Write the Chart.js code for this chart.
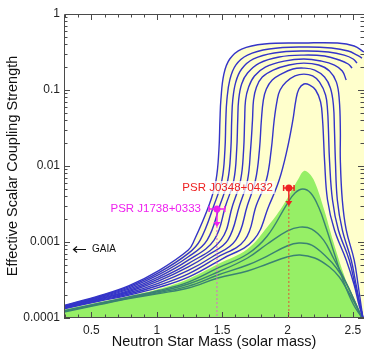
<!DOCTYPE html>
<html>
<head>
<meta charset="utf-8">
<script src="https://cdn.jsdelivr.net/npm/chart.js@4.4.0/dist/chart.umd.min.js"></script>
<style>
  html, body { margin: 0; padding: 0; background: #fff; }
  canvas { display: block; }
</style>
</head>
<body>
<canvas id="chart" width="368" height="353"></canvas>
<script>
// axis ticks
var massTicks = [0.5, 1, 1.5, 2, 2.5];
var couplingTicks = [0.0001, 0.001, 0.01, 0.1, 1];

// contours of the effective coupling, [mass, alpha]
var blue1 = [[0.290,1.46e-4],[0.562,1.97e-4],[0.788,2.67e-4],[1.015,4.21e-4],[1.241,7.85e-4],[1.287,1.06e-3],[1.400,3.07e-3],[1.453,6.54e-3],[1.475,1.62e-2],[1.483,4.03e-2],[1.490,7.38e-2],[1.513,0.162],[1.558,0.256],[1.649,0.346],[1.823,0.403],[2.125,0.415],[2.381,0.415],[2.510,0.379],[2.585,0.316]];
var blue2 = [[0.290,1.44e-4],[0.562,1.93e-4],[0.788,2.59e-4],[1.015,3.95e-4],[1.241,7.08e-4],[1.332,1.06e-3],[1.438,3.07e-3],[1.498,6.54e-3],[1.521,1.62e-2],[1.528,4.03e-2],[1.536,7.38e-2],[1.558,0.135],[1.604,0.213],[1.694,0.288],[1.860,0.346],[2.125,0.368],[2.336,0.357],[2.464,0.326],[2.532,0.288],[2.570,0.263]];
var blue3 = [[0.290,1.42e-4],[0.562,1.89e-4],[0.788,2.49e-4],[1.015,3.71e-4],[1.241,6.39e-4],[1.385,1.06e-3],[1.483,3.07e-3],[1.543,6.54e-3],[1.566,1.62e-2],[1.573,4.03e-2],[1.581,7.38e-2],[1.604,0.127],[1.649,0.189],[1.740,0.256],[1.898,0.307],[2.125,0.326],[2.313,0.316],[2.434,0.288],[2.502,0.256],[2.532,0.226]];
var blue4 = [[0.290,1.41e-4],[0.562,1.85e-4],[0.788,2.40e-4],[1.015,3.48e-4],[1.241,5.76e-4],[1.438,1.06e-3],[1.528,3.07e-3],[1.589,6.54e-3],[1.611,1.62e-2],[1.619,4.03e-2],[1.626,7.38e-2],[1.649,0.120],[1.694,0.167],[1.785,0.226],[1.936,0.272],[2.125,0.288],[2.283,0.280],[2.396,0.248],[2.464,0.220],[2.494,0.194]];
var blue5 = [[0.290,1.39e-4],[0.562,1.81e-4],[0.788,2.31e-4],[1.015,3.28e-4],[1.241,5.20e-4],[1.490,1.06e-3],[1.581,3.07e-3],[1.641,6.54e-3],[1.664,1.62e-2],[1.672,4.03e-2],[1.679,7.38e-2],[1.702,0.109],[1.747,0.153],[1.830,0.200],[1.974,0.240],[2.125,0.256],[2.260,0.240],[2.359,0.213],[2.419,0.178],[2.449,0.135]];
var blue6 = [[0.290,1.37e-4],[0.562,1.78e-4],[0.788,2.23e-4],[1.015,3.07e-4],[1.241,4.69e-4],[1.392,6.74e-4],[1.543,1.06e-3],[1.634,3.07e-3],[1.694,6.54e-3],[1.717,1.62e-2],[1.732,4.03e-2],[1.740,7.38e-2],[1.762,0.109],[1.807,0.148],[1.890,0.183],[2.011,0.213],[2.125,0.226],[2.238,0.213],[2.321,0.178],[2.374,0.127],[2.396,7.38e-2],[2.404,2.97e-2],[2.404,1.20e-2],[2.419,3.57e-3],[2.449,1.44e-3],[2.510,5.79e-4],[2.540,2.72e-4],[2.562,1.48e-4],[2.577,1e-4]];
var blue7 = [[0.290,1.355e-4],[0.562,1.74e-4],[0.788,2.15e-4],[1.015,2.88e-4],[1.241,4.22e-4],[1.422,6.35e-4],[1.604,1.06e-3],[1.694,3.07e-3],[1.755,6.54e-3],[1.785,1.62e-2],[1.800,4.03e-2],[1.815,7.38e-2],[1.838,0.103],[1.883,0.135],[1.951,0.162],[2.041,0.189],[2.125,0.194],[2.208,0.183],[2.283,0.148],[2.328,0.106],[2.351,6.35e-2],[2.359,2.97e-2],[2.366,1.20e-2],[2.381,3.57e-3],[2.419,1.44e-3],[2.487,5.79e-4],[2.525,2.72e-4],[2.555,1.48e-4],[2.577,1e-4]];
var blue8 = [[0.290,1.34e-4],[0.562,1.70e-4],[0.788,2.07e-4],[1.015,2.70e-4],[1.241,3.81e-4],[1.453,6.16e-4],[1.672,1.06e-3],[1.762,3.07e-3],[1.838,6.54e-3],[1.875,1.62e-2],[1.898,4.03e-2],[1.921,7.38e-2],[1.943,0.100],[1.989,0.127],[2.057,0.153],[2.125,0.162],[2.192,0.153],[2.245,0.127],[2.291,8.59e-2],[2.306,5.45e-2],[2.313,2.97e-2],[2.321,1.20e-2],[2.344,3.57e-3],[2.389,1.44e-3],[2.472,5.79e-4],[2.517,2.72e-4],[2.555,1.48e-4],[2.577,1e-4]];
var blue9 = [[0.290,1.32e-4],[0.562,1.67e-4],[0.788,2.00e-4],[1.015,2.53e-4],[1.241,3.44e-4],[1.498,5.97e-4],[1.740,1.06e-3],[1.860,3.07e-3],[1.936,6.54e-3],[1.996,1.62e-2],[2.041,4.03e-2],[2.064,7.38e-2],[2.087,0.103],[2.125,0.120],[2.170,0.116],[2.215,0.100],[2.253,6.95e-2],[2.268,4.03e-2],[2.276,2.20e-2],[2.283,1.20e-2],[2.306,3.57e-3],[2.359,1.44e-3],[2.449,5.79e-4],[2.510,2.72e-4],[2.547,1.48e-4],[2.577,1e-4]];

var teal1 = [[0.290,1.25e-4],[0.562,1.57e-4],[0.788,1.89e-4],[1.015,2.30e-4],[1.241,2.97e-4],[1.468,4.55e-4],[1.694,6.95e-4],[1.845,1.20e-3],[1.996,3.16e-3],[2.057,4.41e-3],[2.117,4.98e-3],[2.177,4.41e-3],[2.238,2.88e-3],[2.298,1.48e-3],[2.359,6.95e-4],[2.427,3.07e-4],[2.502,1.53e-4],[2.570,1e-4]];
var teal2 = [[0.290,1.23e-4],[0.562,1.55e-4],[0.788,1.86e-4],[1.015,2.23e-4],[1.241,2.80e-4],[1.468,4.03e-4],[1.694,6.16e-4],[1.845,9.41e-4],[1.996,1.39e-3],[2.094,1.57e-3],[2.185,1.48e-3],[2.276,1.06e-3],[2.351,6.16e-4],[2.427,3.46e-4],[2.502,1.83e-4],[2.570,1e-4]];
var teal3 = [[0.290,1.22e-4],[0.562,1.53e-4],[0.788,1.83e-4],[1.015,2.16e-4],[1.241,2.63e-4],[1.468,3.68e-4],[1.694,4.98e-4],[1.845,6.54e-4],[1.996,8.86e-4],[2.087,9.70e-4],[2.185,9.13e-4],[2.298,6.35e-4],[2.374,4.55e-4],[2.449,2.88e-4],[2.510,1.72e-4],[2.570,1e-4]];
var teal4 = [[0.290,1.20e-4],[0.562,1.50e-4],[0.788,1.80e-4],[1.015,2.10e-4],[1.241,2.48e-4],[1.468,3.36e-4],[1.694,4.15e-4],[1.845,5.13e-4],[1.996,6.35e-4],[2.094,6.74e-4],[2.208,6.16e-4],[2.321,4.69e-4],[2.396,3.46e-4],[2.457,2.33e-4],[2.517,1.53e-4],[2.570,1e-4]];

// upper edge of the green (allowed) region
var greenEdge = [[0.290,1.29e-4],[0.562,1.62e-4],[0.788,1.94e-4],[1.015,2.40e-4],[1.241,3.26e-4],[1.468,5.13e-4],[1.694,8.09e-4],[1.845,1.57e-3],[1.958,2.88e-3],[2.034,4.83e-3],[2.087,6.95e-3],[2.125,8.59e-3],[2.162,8.09e-3],[2.208,6.16e-3],[2.276,2.80e-3],[2.351,1.00e-3],[2.427,3.91e-4],[2.502,1.72e-4],[2.570,1e-4]];

// pulsar limits
var psrNames = ['PSR J0348+0432', 'PSR J1738+0333'];
var psrMass = [2.01, 1.46];
var psrMassErr = [0.04, 0.06];
var psrAlpha = [5.13e-3, 2.72e-3];
var psrLimit = [3.07e-3, 1.62e-3];
var psrColors = ['#ee2222', '#ee22ee'];
var psrDrop = ['#dd5533', '#dd66cc'];

var gaiaLimit = 8.1e-4;

var blueCurves = [blue1, blue2, blue3, blue4, blue5, blue6, blue7, blue8, blue9];
var tealCurves = [teal1, teal2, teal3, teal4];

function pts(arr) {
  return arr.map(p => ({x: p[0], y: p[1]}));
}

Chart.defaults.font.family = "'Liberation Sans', Arial, sans-serif";

var datasets = [];
datasets.push({
  data: psrNames.map((n, i) => ({x: psrMass[i], y: psrAlpha[i]})),
  showLine: false,
  pointRadius: 3.5,
  pointBackgroundColor: psrColors,
  pointBorderWidth: 0,
  order: -1
});
blueCurves.forEach(c => datasets.push({
  data: pts(c), borderColor: '#3434c8', borderWidth: 1.4, pointRadius: 0, tension: 0.4, fill: false, order: 1
}));
tealCurves.forEach(c => datasets.push({
  data: pts(c), borderColor: '#3a8272', borderWidth: 1.4, pointRadius: 0, tension: 0.4, fill: false, order: 2
}));
datasets.push({
  data: pts(greenEdge), borderWidth: 0, pointRadius: 0, tension: 0.4,
  backgroundColor: '#96ef66', fill: 'start', order: 9
});
datasets.push({
  data: pts(blue1), borderWidth: 0, pointRadius: 0, tension: 0.4,
  backgroundColor: '#ffffcc', fill: 'start', order: 10
});

// frame with inward ticks on all four sides
var frame = {
  id: 'frame',
  afterDatasetsDraw(chart) {
    var ctx = chart.ctx, a = chart.chartArea, x = chart.scales.x, y = chart.scales.y;
    ctx.save();
    ctx.strokeStyle = '#4a4a4a';
    ctx.lineWidth = 1;
    ctx.beginPath();
    ctx.moveTo(a.left + 0.5, a.bottom);
    ctx.lineTo(a.left + 0.5, a.top + 0.5);
    ctx.lineTo(a.right, a.top + 0.5);
    ctx.moveTo(a.left, a.bottom - 0.5);
    ctx.lineTo(a.right, a.bottom - 0.5);
    for (var k = 3; k <= 25; k++) {
      var px = Math.round(x.getPixelForValue(k / 10)) + 0.5;
      var len = k % 5 === 0 ? 6 : 3.5;
      ctx.moveTo(px, a.bottom); ctx.lineTo(px, a.bottom - len);
      ctx.moveTo(px, a.top); ctx.lineTo(px, a.top + len);
    }
    for (var e = -4; e < 0; e++) {
      for (var m = 1; m <= 9; m++) {
        var py = Math.round(y.getPixelForValue(m * Math.pow(10, e))) + 0.5;
        var l = m === 1 ? 6 : 3.5;
        ctx.moveTo(a.left, py); ctx.lineTo(a.left + l, py);
        ctx.moveTo(a.right, py); ctx.lineTo(a.right - l, py);
      }
    }
    ctx.stroke();
    ctx.restore();
  }
};

// pulsar error bars, upper-limit arrows and labels, GAIA marker
var annotations = {
  id: 'annotations',
  afterDatasetsDraw(chart) {
    var ctx = chart.ctx, a = chart.chartArea, x = chart.scales.x, y = chart.scales.y;
    ctx.save();
    psrNames.forEach((name, i) => {
      var px = x.getPixelForValue(psrMass[i]);
      var py = y.getPixelForValue(psrAlpha[i]);
      var pl = y.getPixelForValue(psrLimit[i]);
      var x0 = x.getPixelForValue(psrMass[i] - psrMassErr[i]);
      var x1 = x.getPixelForValue(psrMass[i] + psrMassErr[i]);

      ctx.setLineDash([2, 2]);
      ctx.strokeStyle = psrDrop[i];
      ctx.lineWidth = 1;
      ctx.beginPath();
      ctx.moveTo(px, pl);
      ctx.lineTo(px, a.bottom);
      ctx.stroke();
      ctx.setLineDash([]);

      ctx.strokeStyle = psrColors[i];
      ctx.lineWidth = 1.5;
      ctx.beginPath();
      ctx.moveTo(x0, py); ctx.lineTo(x1, py);
      ctx.moveTo(x0, py - 3); ctx.lineTo(x0, py + 3);
      ctx.moveTo(x1, py - 3); ctx.lineTo(x1, py + 3);
      ctx.moveTo(px, py); ctx.lineTo(px, pl - 3);
      ctx.stroke();
      ctx.fillStyle = psrColors[i];
      ctx.beginPath();
      ctx.moveTo(px - 3.5, pl - 4);
      ctx.lineTo(px + 3.5, pl - 4);
      ctx.lineTo(px, pl + 1);
      ctx.closePath();
      ctx.fill();

      ctx.font = "11.5px 'Liberation Sans', Arial, sans-serif";
      var w = ctx.measureText(name).width;
      var xr = px - 16;
      ctx.fillStyle = 'rgba(255,255,255,0.75)';
      ctx.fillRect(xr - w - 2, py - 7, w + 4, 13);
      ctx.fillStyle = psrColors[i];
      ctx.textAlign = 'right';
      ctx.textBaseline = 'middle';
      ctx.fillText(name, xr, py);
    });

    var gy = Math.round(y.getPixelForValue(gaiaLimit)) + 0.5;
    ctx.strokeStyle = '#111';
    ctx.fillStyle = '#111';
    ctx.lineWidth = 1.2;
    ctx.beginPath();
    ctx.moveTo(a.left + 22, gy); ctx.lineTo(a.left + 10, gy);
    ctx.moveTo(a.left + 13, gy - 3); ctx.lineTo(a.left + 9.5, gy); ctx.lineTo(a.left + 13, gy + 3);
    ctx.stroke();
    ctx.font = "10px 'Liberation Sans', Arial, sans-serif";
    ctx.textAlign = 'left';
    ctx.textBaseline = 'middle';
    ctx.fillText('GAIA', a.left + 28, gy);
    ctx.restore();
  }
};

new Chart(document.getElementById('chart'), {
  type: 'line',
  data: {datasets: datasets},
  options: {
    responsive: false,
    animation: false,
    events: [],
    layout: {padding: {top: 14, left: 0, right: 0, bottom: 0}},
    plugins: {legend: {display: false}, tooltip: {enabled: false}},
    scales: {
      x: {
        type: 'linear', min: 0.29, max: 2.585,
        grid: {display: false, drawTicks: false},
        border: {display: false},
        afterBuildTicks: s => { s.ticks = massTicks.map(v => ({value: v})); },
        afterFit: s => { s.height = 35; s.paddingLeft = 0; s.paddingRight = 0; },
        ticks: {padding: 5, color: '#222', font: {size: 12}, maxRotation: 0, autoSkip: false, callback: v => String(v)},
        title: {display: true, text: 'Neutron Star Mass (solar mass)', color: '#111', font: {size: 14.5}, padding: {top: 0, bottom: 2}}
      },
      y: {
        type: 'logarithmic', min: 1e-4, max: 1,
        grid: {display: false, drawTicks: false},
        border: {display: false},
        afterBuildTicks: s => { s.ticks = couplingTicks.map(v => ({value: v, major: true})); },
        afterFit: s => { s.width = 64; s.paddingTop = 0; s.paddingBottom = 0; },
        ticks: {padding: 4, color: '#222', font: {size: 12}, autoSkip: false, callback: v => String(v)},
        title: {display: true, text: 'Effective Scalar Coupling Strength', color: '#111', font: {size: 14.5}, padding: {top: 4, bottom: 0}}
      }
    }
  },
  plugins: [frame, annotations]
});
</script>
</body>
</html>
